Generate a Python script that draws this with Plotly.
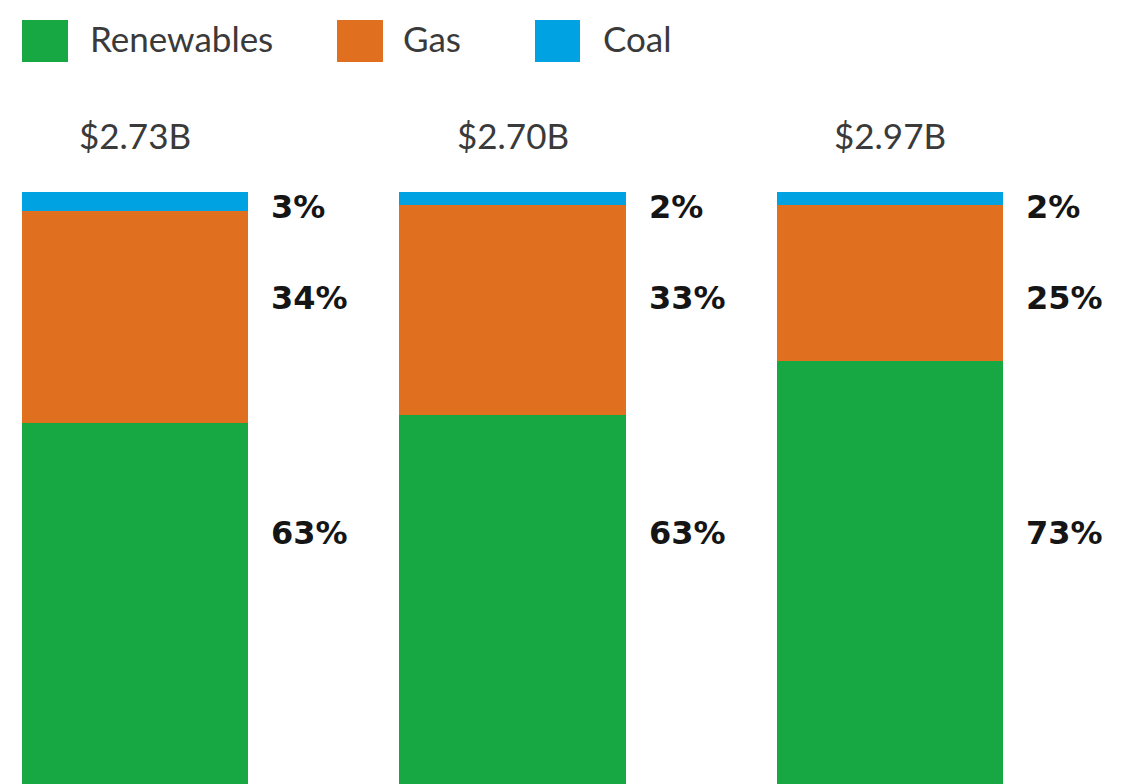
import plotly.graph_objects as go

# ---- data ----
categories = ["A", "B", "C"]
totals = ["$2.73B", "$2.70B", "$2.97B"]
renewables = [63, 63, 73]
gas = [34, 33, 25]
coal = [3, 2, 2]
series_names = ["Renewables", "Gas", "Coal"]
colors = ["#17a844", "#e07020", "#00a2e2"]

PAGE_OFF = 8            # browser body margin
W, H = 1128 - PAGE_OFF, 784 - PAGE_OFF
TOP = 192 - PAGE_OFF    # plot area top in figure px
PLOT_H = H - TOP
PX_PER_PCT = 6.25
x_pitch = 377.5
x_center0 = 135 - PAGE_OFF

def py(px):  # page pixel y -> paper y
    return (H - (px - PAGE_OFF)) / PLOT_H

def pxx(px):  # page pixel x -> paper x
    return (px - PAGE_OFF) / W

fig = go.Figure()
idx = list(range(len(categories)))
for name, vals, col in zip(series_names, [renewables, gas, coal], colors):
    fig.add_trace(go.Bar(x=idx, y=vals, name=name, marker=dict(color=col, line=dict(width=0)),
                         width=0.6, showlegend=False, hoverinfo="skip"))

REG = "Lato, Noto Sans, sans-serif"
BOLD = "DejaVu Sans, sans-serif"
annotations = []
# totals above bars
for i, t in enumerate(totals):
    annotations.append(dict(x=i, y=py(135), xref="x", yref="paper", text=t, showarrow=False,
                            xanchor="center", yanchor="middle",
                            font=dict(family=REG, size=35, color="#3a3a3a")))
# percent labels
label_rows = [(coal, 207), (gas, 298), (renewables, 533)]
for vals, ypx in label_rows:
    for i, v in enumerate(vals):
        annotations.append(dict(x=i + 0.3, y=py(ypx), xref="x", yref="paper", text=f"<b>{v}%</b>",
                                showarrow=False, xanchor="left", yanchor="middle", xshift=21,
                                font=dict(family=BOLD, size=32, color="#151515")))

# custom legend
shapes = []
legend_items = [(22, 68, 88), (337, 383, 401), (535, 580, 601)]
for (x0, x1, tx), name, col in zip(legend_items, series_names, colors):
    shapes.append(dict(type="rect", xref="paper", yref="paper", x0=pxx(x0), x1=pxx(x1),
                       y0=py(62), y1=py(20), fillcolor=col, line=dict(width=0)))
    annotations.append(dict(x=pxx(tx), y=py(38), xref="paper", yref="paper", text=name, showarrow=False,
                            xanchor="left", yanchor="middle",
                            font=dict(family=REG, size=35, color="#3a3a3a")))

x0_range = -x_center0 / x_pitch
fig.update_layout(
    width=W, height=H,
    barmode="stack",
    barnorm="percent",
    margin=dict(l=0, r=0, t=TOP, b=0),
    paper_bgcolor="white", plot_bgcolor="white",
    xaxis=dict(range=[x0_range, x0_range + W / x_pitch], visible=False, fixedrange=True),
    yaxis=dict(range=[100 - PLOT_H / PX_PER_PCT, 100], visible=False, fixedrange=True),
    annotations=annotations,
    shapes=shapes,
    showlegend=False,
)
fig.write_html("out.html", config={"displayModeBar": False})
